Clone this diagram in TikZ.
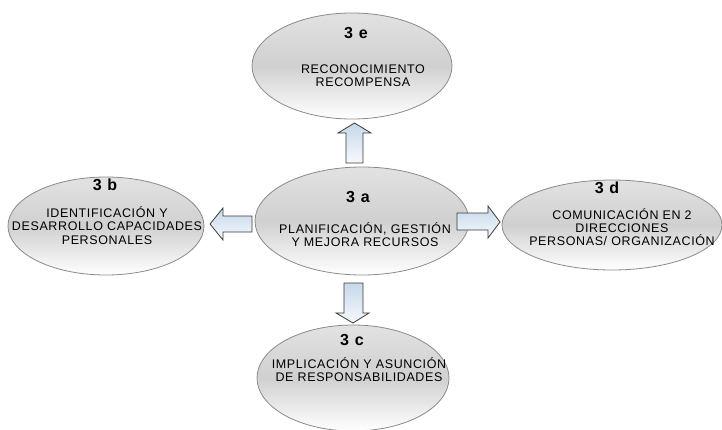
\documentclass[tikz,border=0pt]{standalone}
\usepackage{fontspec}
\setmainfont{Liberation Sans}
\newfontfamily\bodyfont[LetterSpace=5]{Liberation Sans}
\newfontfamily\ttlfont[LetterSpace=8]{Liberation Sans}
\usetikzlibrary{shapes.geometric}
\definecolor{ellline}{HTML}{8A8A8A}
\definecolor{ellmid}{HTML}{D0D0D0}
\definecolor{elltop}{HTML}{E2E2E2}
\definecolor{arrline}{HTML}{3A3A3A}
\definecolor{arrtop}{HTML}{C6D8EA}
\definecolor{arrbot}{HTML}{F6F9FC}
\tikzset{
  oval/.style={ellipse, draw=ellline, line width=0.8pt, top color=elltop, bottom color=white, middle color=ellmid, inner sep=0pt},
  ttl/.style={font=\ttlfont\bfseries\fontsize{16}{17}\selectfont, inner sep=0pt, anchor=center},
  body/.style={font=\bodyfont\fontsize{12.5}{13.2}\selectfont, align=center, inner sep=0pt, anchor=center, text=black},
  blockarr/.style={draw=arrline, line width=0.8pt, top color=arrtop, bottom color=arrbot, line join=miter}
}
\begin{document}
\begin{tikzpicture}[x=1pt,y=-1pt]
\useasboundingbox (0,0) rectangle (722,429);
% ellipses
\node[oval, minimum width=200pt, minimum height=106pt] (e) at (352,66) {};
\node[oval, minimum width=196pt, minimum height=98pt] (b) at (106,226) {};
\node[oval, minimum width=214pt, minimum height=108pt] (a) at (362,221) {};
\node[oval, minimum width=220pt, minimum height=90pt] (d) at (612,225) {};
\node[oval, minimum width=192pt, minimum height=106pt] (c) at (353,378) {};
% titles
\node[ttl] (et) at (356,33) {3 e};
\node[ttl] (bt) at (105,185) {3 b};
\node[ttl] (at) at (358,197) {3 a};
\node[ttl] (dt) at (607,188) {3 d};
\node[ttl] (ct) at (352,340) {3 c};
% texts
\node[body] (ex) at (363,75.5) {RECONOCIMIENTO\\RECOMPENSA};
\node[body] (bx) at (107,225.5) {IDENTIFICACIÓN Y\\DESARROLLO CAPACIDADES\\PERSONALES};
\node[body] (ax) at (365,235) {PLANIFICACIÓN, GESTIÓN\\Y MEJORA RECURSOS};
\node[body] (dx) at (622,227) {COMUNICACIÓN EN 2\\DIRECCIONES\\PERSONAS/ ORGANIZACIÓN};
\node[body] (cx) at (359,370) {IMPLICACIÓN Y ASUNCIÓN\\DE RESPONSABILIDADES};
% block arrows
% up (a -> e)
\path[blockarr] (346,163) -- (346,133) -- (338,133) -- (354.5,123) -- (371,133) -- (363,133) -- (363,163) -- cycle;
% left (a -> b)
\path[blockarr] (252,216) -- (223,216) -- (223,208) -- (210,224) -- (223,240) -- (223,232) -- (252,232) -- cycle;
% right (a -> d)
\path[blockarr] (457,213) -- (488,213) -- (488,206) -- (500,222) -- (488,238) -- (488,230) -- (457,230) -- cycle;
% down (a -> c)
\path[blockarr] (344,283) -- (363,283) -- (363,313) -- (369,313) -- (353,323) -- (336,313) -- (344,313) -- cycle;
\end{tikzpicture}
\end{document}
